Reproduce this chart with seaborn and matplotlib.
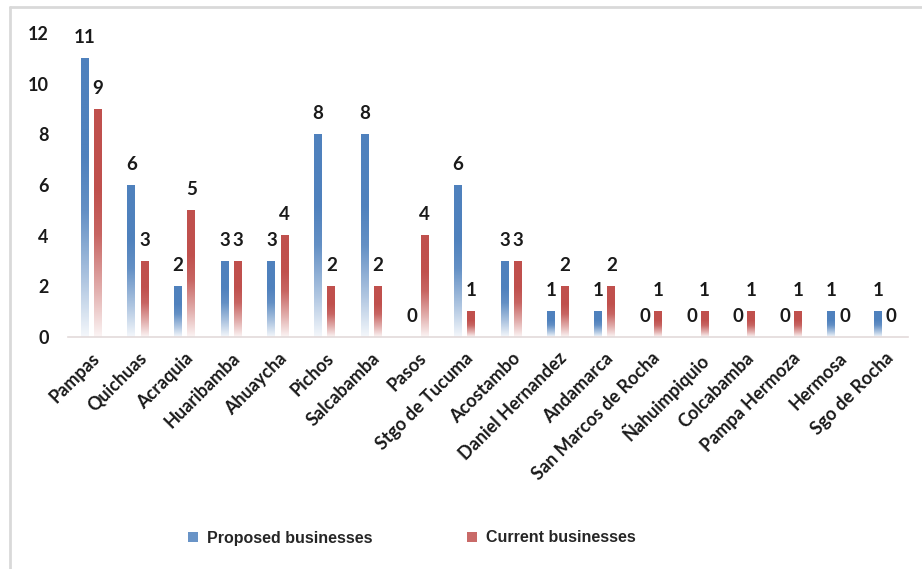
import numpy as np
import pandas as pd
import matplotlib
matplotlib.use("Agg")
import matplotlib.pyplot as plt
import seaborn as sns
from matplotlib.colors import LinearSegmentedColormap, to_rgb
from matplotlib.patches import Patch
from matplotlib.lines import Line2D

categories = ["Pampas", "Quichuas", "Acraquia", "Huaribamba", "Ahuaycha", "Pichos",
              "Salcabamba", "Pasos", "Stgo de Tucuma", "Acostambo", "Daniel Hernandez",
              "Andamarca", "San Marcos de Rocha", "Ñahuimpiquio", "Colcabamba",
              "Pampa Hermoza", "Hermosa", "Sgo de Rocha"]
proposed = [11, 6, 2, 3, 3, 8, 8, 0, 6, 3, 1, 1, 0, 0, 0, 0, 1, 1]
current = [9, 3, 5, 3, 4, 2, 2, 4, 1, 3, 2, 2, 1, 1, 1, 1, 0, 0]
series_names = ["Proposed businesses", "Current businesses"]
yticks = [0, 2, 4, 6, 8, 10, 12]

colors = {"Proposed businesses": "#4F81BD", "Current businesses": "#C0504D"}

df = pd.DataFrame({
    "category": categories * 2,
    "value": proposed + current,
    "series": [series_names[0]] * len(categories) + [series_names[1]] * len(categories),
})

sns.set_theme(style="white")
plt.rcParams["font.family"] = ["Lato", "DejaVu Sans"]

fig = plt.figure(figsize=(9.22, 5.69), dpi=100)
ax = fig.add_axes([68 / 922, 232 / 569, 840 / 922, 304 / 569])

sns.barplot(data=df, x="category", y="value", hue="series", order=categories,
            hue_order=series_names, palette=colors, width=0.56, gap=0.39,
            legend=False, ax=ax, saturation=1)

ax.set_ylim(0, 12)
ax.set_xlim(-0.5, len(categories) - 0.5)

# gradient fill for each bar (full colour at top, fading to white at bottom)
def grad_cmap(c):
    r, g, b = to_rgb(c)
    def mix(f):
        return (1 - f + f * r, 1 - f + f * g, 1 - f + f * b)
    return LinearSegmentedColormap.from_list(
        "g", [(0.0, mix(0.06)), (0.2, mix(0.45)), (0.45, mix(0.88)),
              (0.65, mix(1.0)), (1.0, mix(1.0))])

grad = np.linspace(0, 1, 256).reshape(-1, 1)
for container, name in zip(ax.containers, series_names):
    cmap = grad_cmap(colors[name])
    for p in container.patches:
        x, w, h = p.get_x(), p.get_width(), p.get_height()
        if h <= 0:
            continue
        ax.imshow(grad, extent=[x, x + w, 0, h], origin="lower", aspect="auto",
                  cmap=cmap, zorder=2, interpolation="bilinear")
        p.set_facecolor("none")
        p.set_edgecolor("none")
    ax.bar_label(container, fmt="%g", padding=9, fontsize=13.5, fontweight="bold",
                 color="#1a1a1a")

ax.set_ylim(0, 12)
ax.set_xlim(-0.5, len(categories) - 0.5)
ax.set_aspect("auto")

ax.set_yticks(yticks)
ax.set_yticklabels([str(t) for t in yticks], fontsize=13, fontweight="bold", color="#1a1a1a")
ax.tick_params(axis="y", length=0, pad=14)
ax.tick_params(axis="x", length=0, pad=9)
ax.set_xticks(range(len(categories)))
ax.set_xticklabels(categories, rotation=45, ha="right", rotation_mode="anchor",
                   fontsize=13, fontweight="bold", color="#1a1a1a")
ax.set_xlabel("")
ax.set_ylabel("")
for s in ["top", "right", "left"]:
    ax.spines[s].set_visible(False)
ax.spines["bottom"].set_color("#e3dada")
ax.spines["bottom"].set_linewidth(1.2)
ax.grid(False)

handles = [Patch(facecolor=colors[n], edgecolor="none", alpha=0.85) for n in series_names]
fig.legend(handles, series_names, loc="center", bbox_to_anchor=(412 / 922, 31 / 569),
           ncol=2, frameon=False, handlelength=0.6, handleheight=0.6,
           handletextpad=0.6, columnspacing=5.9,
           prop={"family": "Liberation Sans", "weight": "bold", "size": 11.5})

fig.add_artist(Line2D([10 / 922, 10 / 922], [0, 1 - 7 / 569], color="#d9d9d9", lw=2))
fig.add_artist(Line2D([10 / 922, 1], [1 - 7 / 569, 1 - 7 / 569], color="#d9d9d9", lw=2))

fig.savefig("out.png", dpi=100)
